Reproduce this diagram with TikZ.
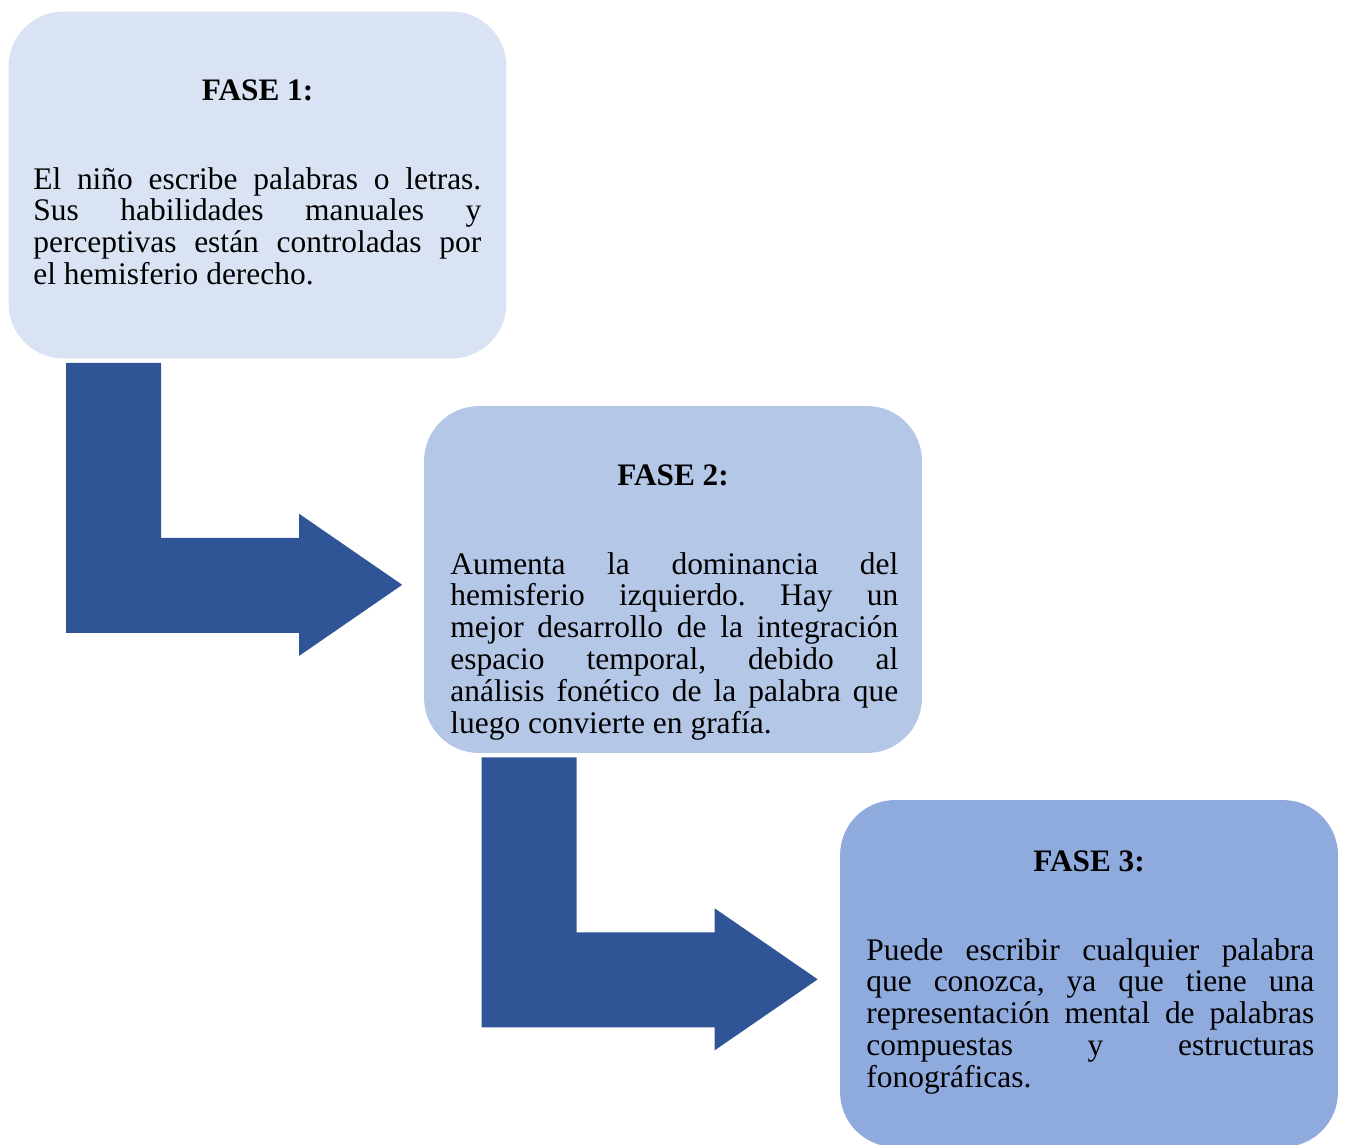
\documentclass[tikz,border=0pt]{standalone}
\usepackage{fontspec}
\setmainfont{Liberation Serif}
\usetikzlibrary{calc}
\frenchspacing

\definecolor{faseA}{HTML}{DAE3F3}
\definecolor{faseB}{HTML}{B4C7E7}
\definecolor{faseC}{HTML}{8FAADC}
\definecolor{flecha}{HTML}{2F5597}

\begin{document}
\begin{tikzpicture}[x=0.02cm, y=-0.02cm,
  fase/.style = {rounded corners=1.1cm, minimum width=9.96cm, minimum height=6.94cm, inner sep=0pt},
  titulo/.style = {inner sep=0pt, anchor=base, font=\fontsize{17.8}{18.2}\selectfont\bfseries},
  cuerpo/.style = {inner sep=0pt, anchor=base west, text width=8.96cm, align=justify, font=\fontsize{17.9}{18.2}\selectfont}]
  \useasboundingbox (0,0) rectangle (1345,1144);
  \node[fase, fill=faseA] (fase1) at (257.5,185) {};
  \node[fase, fill=faseB] (fase2) at (673,579.5) {};
  \node[fase, fill=faseC] (fase3) at (1089,973.5) {};
  \node[titulo] (t1) at (257.5,100) {FASE 1:};
  \node[titulo] (t2) at (673,485) {FASE 2:};
  \node[titulo] (t3) at (1089,871) {FASE 3:};
  \node[cuerpo] (c1) at (33,189) {El niño escribe palabras o letras.\linebreak Sus habilidades manuales y\linebreak perceptivas están controladas por\linebreak el hemisferio derecho.};
  \node[cuerpo] (c2) at (450,574) {Aumenta la dominancia del\linebreak hemisferio izquierdo. Hay un\linebreak mejor desarrollo de la integración\linebreak espacio temporal, debido al\linebreak análisis fonético de la palabra que\linebreak luego convierte en grafía.};
  \node[cuerpo] (c3) at (866,960) {Puede escribir cualquier palabra\linebreak que conozca, ya que tiene una\linebreak representación mental de palabras\linebreak compuestas y estructuras\linebreak fonográficas.};
  % flechas en L entre fases
  \foreach \a in {fase1, fase2} {
    \coordinate (p) at ($(\a.south west)+(58,4)$);
    \fill[flecha] (p) -- ++(95,0) -- ++(0,175) -- ++(138,0) -- ++(0,-24) -- ++(103,71)
      -- ++(-103,71) -- ++(0,-23) -- ++(-233,0) -- cycle;
  }
\end{tikzpicture}
\end{document}
